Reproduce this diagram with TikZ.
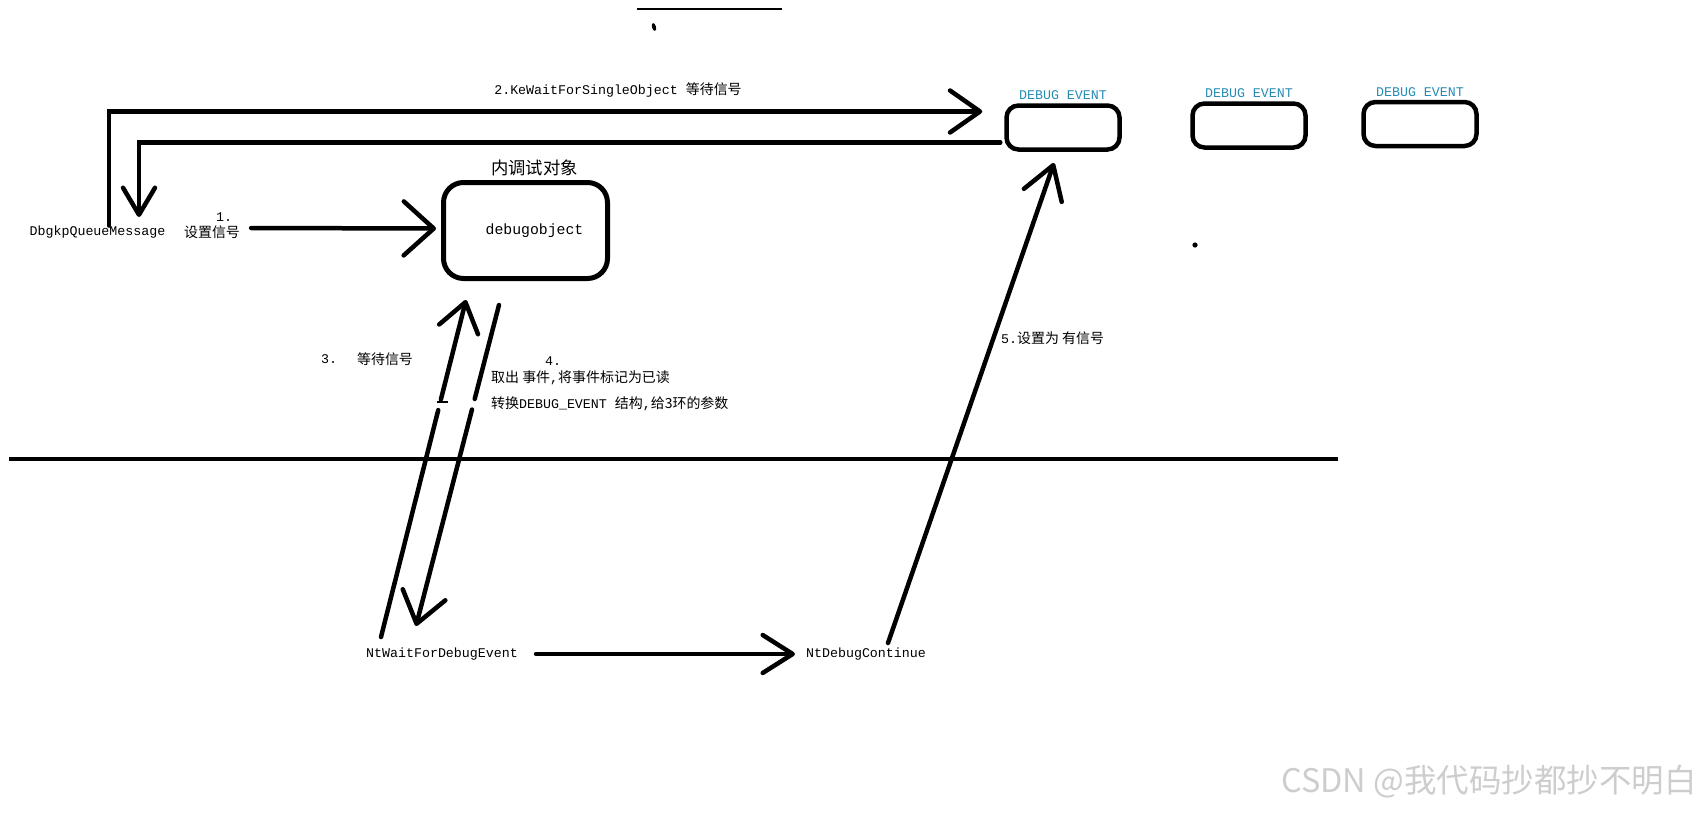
\documentclass[tikz,border=0pt]{standalone}
\usepackage{fontspec}
\setmainfont{Liberation Mono}
\newfontfamily\cjk[Scale=1.05]{Noto Sans CJK SC}
\newfontfamily\wmfont{Noto Sans CJK SC}
\usepackage{tikz}
\usetikzlibrary{arrows.meta, positioning, calc}
\definecolor{evteal}{RGB}{38,140,180}
\definecolor{wmgray}{RGB}{205,205,205}
\newcommand\zh[1]{{\cjk #1}}
\tikzset{
  %% ---- texts ----
  txt/.style     = {inner sep=0pt, font=\fontsize{13.3}{16}\selectfont},
  evlabel/.style = {txt, text=evteal},
  %% ---- boxes ----
  evbox/.style   = {rectangle, rounded corners=12pt, draw, line width=4.5pt,
                    minimum width=113pt, minimum height=44pt, inner sep=0pt},
  objbox/.style  = {rectangle, rounded corners=20pt, draw, line width=5pt,
                    minimum width=164pt, minimum height=96pt, inner sep=0pt,
                    font=\fontsize{14.8}{18}\selectfont},
  %% ---- arrows ----
  arr/.style 2 args = {-{Straight Barb[length=#1, width=#2, round]},
                    line width=4.5pt, line cap=round},
}

\begin{document}
\begin{tikzpicture}[x=1pt, y=-1pt]
\useasboundingbox (0,0) rectangle (1708,814);

% stray marks at the top
\draw[line width=1.2pt] (637,9) -- (782,9);
\fill[rotate around={15:(654,27)}] (654,27) ellipse (2pt and 4pt);
\fill (1195,245) circle (2.6pt);

% debug event queue
\node[evbox, label={[evlabel, yshift=3pt]above:DEBUG EVENT}] (ev1) at (1063,127.5) {};
\node[evbox, label={[evlabel, yshift=3pt]above:DEBUG EVENT}] (ev2) at (1249,125.5) {};
\node[evbox, label={[evlabel, yshift=3pt]above:DEBUG EVENT}] (ev3) at (1420,124) {};

% debug object
\node[objbox, label={[txt, font=\cjk\fontsize{16.5}{18}\selectfont, yshift=4pt, xshift=9pt]above:内调试对象}]
      (dbg) at (525.5,230.5) {\hspace*{18pt}debugobject};

% texts
\node[txt] (queue) at (97.5,232) {DbgkpQueueMessage};
\node[txt] (sig1)  at (212,232)  {\zh{设置信号}};
\node[txt, above=4pt of sig1, xshift=12pt] (n1) {1.};
\node[txt] (kewait) at (618,90) {2.KeWaitForSingleObject \zh{等待信号}};
\node[txt] (n3)    at (329,359) {3.};
\node[txt] (wait3) at (385,359) {\zh{等待信号}};
\node[txt] (n4)    at (553,361) {4.};
\node[txt, anchor=west] (fetch) at (491,378) {\zh{取出 事件},\zh{将事件标记为已读}};
\node[txt, anchor=west] (conv)  at (491,404) {\zh{转换}DEBUG\_EVENT \zh{结构},\zh{给3环的参数}};
\node[txt, anchor=west] (n5)    at (1001,338) {5.\zh{设置为 有信号}};
\node[txt] (ntwait) at (442,654) {NtWaitForDebugEvent};
\node[txt] (ntcont) at (866,654) {NtDebugContinue};

% user / kernel divide
\draw[line width=4pt] (9,459) -- (1338,459);

% named free ends
\coordinate (up3a) at (381,637);
\coordinate (up3b) at (466,300);
\coordinate (dn4a) at (499,305);
\coordinate (dn4b) at (416,626);
\coordinate (up5a) at (888,643);
\coordinate (up5b) at (1054,163);

% connectors
\draw[arr={30pt}{42pt}] (queue.north -| 109,0) |- ([xshift=-22pt, yshift=16pt]ev1.west);
\draw[arr={27pt}{32pt}] ([xshift=-4pt, yshift=-15pt]ev1.west) -| (139,217);
\draw[arr={30pt}{54pt}] ([xshift=11pt, yshift=4pt]sig1.east) -- ([xshift=-5pt, yshift=2pt]dbg.west);
\draw[arr={28pt}{40pt}, dash pattern=on 234pt off 11pt on 400pt] (up3a) -- (up3b);
\draw[line width=1.2pt] (437,402) -- (448,402);
\draw[arr={30pt}{44pt}, dash pattern=on 97pt off 11pt on 400pt] (dn4a) -- (dn4b);
\draw[arr={30pt}{38pt}] ([xshift=18pt]ntwait.east) -- ([xshift=-11pt]ntcont.west);
\draw[arr={32pt}{40pt}] (up5a) -- (up5b);

% watermark
\node[inner sep=0pt, text=wmgray, font=\wmfont\fontsize{32.5}{35}\selectfont] (wm) at (1489,782)
      {CSDN @我代码抄都抄不明白};
\end{tikzpicture}
\end{document}
